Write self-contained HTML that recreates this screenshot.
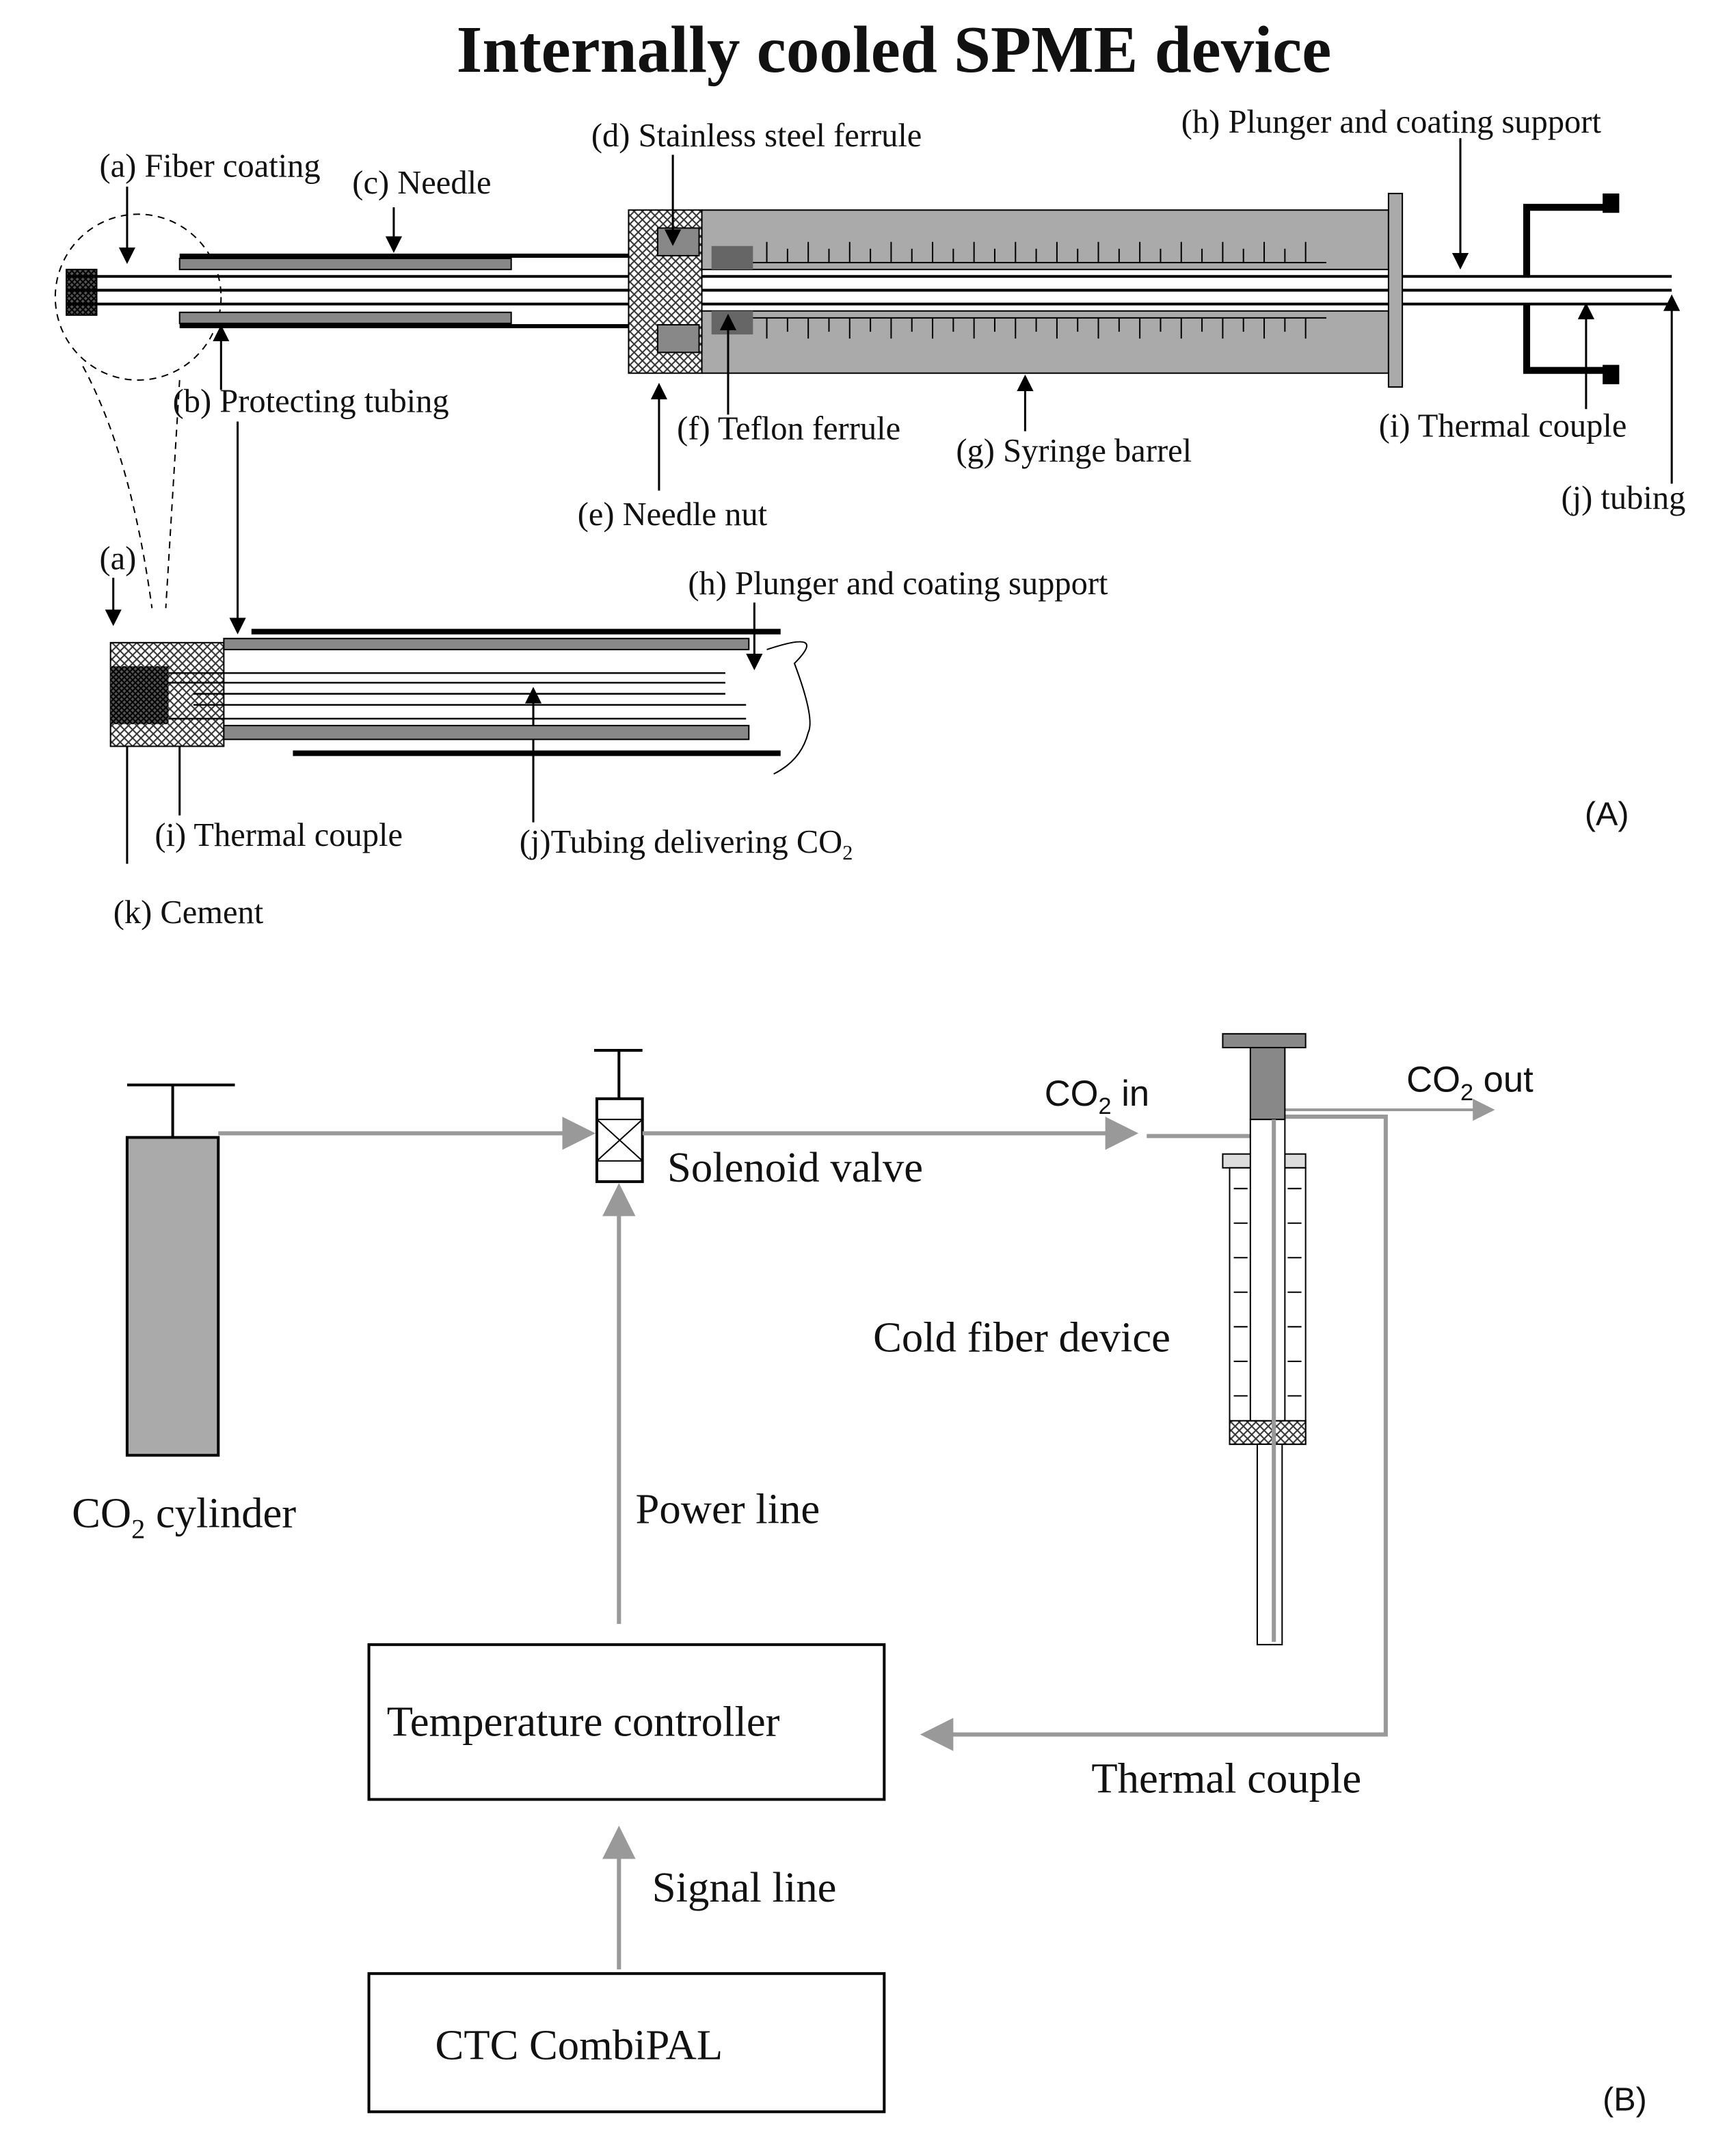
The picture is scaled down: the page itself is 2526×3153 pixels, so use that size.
<!DOCTYPE html>
<html><head><meta charset="utf-8"><style>
html,body{margin:0;padding:0;background:#fff}
svg{display:block}
text{font-family:"Liberation Serif",serif;fill:#111}
</style></head><body>
<svg width="2526" height="3153" viewBox="0 0 1250 1560" preserveAspectRatio="none" xmlns="http://www.w3.org/2000/svg">
<defs>
<pattern id="hx" width="6" height="6" patternUnits="userSpaceOnUse"><rect width="6" height="6" fill="#fff"/><path d="M0 0L6 6M6 0L0 6" stroke="#333" stroke-width="1"/></pattern>
<pattern id="dk" width="4" height="4" patternUnits="userSpaceOnUse"><rect width="4" height="4" fill="#555"/><path d="M0 0L4 4M4 0L0 4" stroke="#000" stroke-width="1"/></pattern>
<marker id="ab" markerWidth="8" markerHeight="8" refX="6" refY="4" orient="auto"><path d="M0 0L8 4L0 8z" fill="#000"/></marker>
<marker id="ag" markerWidth="8" markerHeight="8" refX="6" refY="4" orient="auto"><path d="M0 0L8 4L0 8z" fill="#999"/></marker>
</defs>
<text x="647" y="52" text-anchor="middle" font-size="48" font-weight="bold">Internally cooled SPME device</text>

<circle cx="100" cy="215" r="60" fill="none" stroke="#000" stroke-dasharray="5,4"/>
<path d="M60 265 Q95 330 110 440" fill="none" stroke="#000" stroke-dasharray="5,4"/>
<path d="M130 275 L120 440" fill="none" stroke="#000" stroke-dasharray="5,4"/>
<rect x="48" y="195" width="22" height="33" fill="url(#dk)" stroke="#000"/>
<rect x="130" y="187" width="240" height="8" fill="#888" stroke="#000"/>
<rect x="130" y="226" width="240" height="8" fill="#888" stroke="#000"/>
<line x1="130" y1="185" x2="520" y2="185" stroke="#000" stroke-width="3"/>
<line x1="130" y1="236" x2="520" y2="236" stroke="#000" stroke-width="3"/>
<line x1="48" y1="200" x2="1210" y2="200" stroke="#000" stroke-width="2"/>
<line x1="48" y1="210" x2="1210" y2="210" stroke="#000" stroke-width="2"/>
<line x1="48" y1="220" x2="1210" y2="220" stroke="#000" stroke-width="2"/>
<rect x="455" y="152" width="53" height="118" fill="url(#hx)" stroke="#000"/>
<rect x="476" y="165" width="30" height="20" fill="#888" stroke="#000"/>
<rect x="476" y="235" width="30" height="20" fill="#888" stroke="#000"/>
<rect x="508" y="152" width="497" height="43" fill="#aaa" stroke="#000"/>
<rect x="508" y="225" width="497" height="45" fill="#aaa" stroke="#000"/>
<rect x="515" y="178" width="30" height="17" fill="#666"/>
<rect x="515" y="225" width="30" height="17" fill="#666"/>
<g stroke="#000" stroke-width="1">
<line x1="545" y1="190" x2="960" y2="190"/><line x1="545" y1="230" x2="960" y2="230"/>
</g>
<path d="M555 175V190M570 180V190M585 175V190M600 180V190M615 175V190M630 180V190M645 175V190M660 180V190M675 175V190M690 180V190M705 175V190M720 180V190M735 175V190M750 180V190M765 175V190M780 180V190M795 175V190M810 180V190M825 175V190M840 180V190M855 175V190M870 180V190M885 175V190M900 180V190M915 175V190M930 180V190M945 175V190M555 230V245M570 230V240M585 230V245M600 230V240M615 230V245M630 230V240M645 230V245M660 230V240M675 230V245M690 230V240M705 230V245M720 230V240M735 230V245M750 230V240M765 230V245M780 230V240M795 230V245M810 230V240M825 230V245M840 230V240M855 230V245M870 230V240M885 230V245M900 230V240M915 230V245M930 230V240M945 230V245" stroke="#000"/>
<rect x="1005" y="140" width="10" height="140" fill="#aaa" stroke="#000"/>
<path d="M1165 150H1105V200M1105 220V268H1165" fill="none" stroke="#000" stroke-width="5"/>
<rect x="1160" y="140" width="12" height="14" fill="#000"/><rect x="1160" y="264" width="12" height="14" fill="#000"/>

<g font-size="24">
<text x="72" y="128">(a) Fiber coating</text>
<text x="255" y="140">(c) Needle</text>
<text x="428" y="106">(d) Stainless steel ferrule</text>
<text x="855" y="96">(h) Plunger and coating support</text>
<text x="125" y="298">(b) Protecting tubing</text>
<text x="490" y="318">(f) Teflon ferrule</text>
<text x="692" y="334">(g) Syringe barrel</text>
<text x="998" y="316">(i) Thermal couple</text>
<text x="1130" y="368">(j) tubing</text>
<text x="418" y="380">(e) Needle nut</text>
<text x="72" y="412">(a)</text>
<text x="498" y="430">(h) Plunger and coating support</text>
<text x="112" y="612">(i) Thermal couple</text>
<text x="376" y="617">(j)Tubing delivering CO<tspan font-size="15" dy="5">2</tspan></text>
<text x="82" y="668">(k) Cement</text>
</g>
<text x="1147" y="597" font-size="24" style="font-family:'Liberation Sans',sans-serif">(A)</text>
<g stroke="#000" stroke-width="1.5" fill="none" marker-end="url(#ab)">
<line x1="92" y1="135" x2="92" y2="188"/>
<line x1="285" y1="150" x2="285" y2="180"/>
<line x1="487" y1="112" x2="487" y2="175"/>
<line x1="1057" y1="100" x2="1057" y2="192"/>
<line x1="160" y1="282" x2="160" y2="238"/>
<line x1="527" y1="300" x2="527" y2="230"/>
<line x1="742" y1="312" x2="742" y2="274"/>
<line x1="1148" y1="296" x2="1148" y2="222"/>
<line x1="1210" y1="350" x2="1210" y2="216"/>
<line x1="477" y1="355" x2="477" y2="280"/>
<line x1="82" y1="418" x2="82" y2="450"/>
<line x1="172" y1="305" x2="172" y2="456"/>
<line x1="546" y1="436" x2="546" y2="482"/>
<line x1="386" y1="595" x2="386" y2="500"/>
<line x1="92" y1="625" x2="92" y2="505"/>
<line x1="130" y1="590" x2="130" y2="515"/>
</g>

<rect x="80" y="465" width="82" height="75" fill="url(#hx)" stroke="#000"/>
<rect x="80" y="482" width="42" height="42" fill="url(#dk)"/>
<rect x="162" y="462" width="380" height="8" fill="#888" stroke="#000"/>
<rect x="162" y="525" width="380" height="10" fill="#888" stroke="#000"/>
<line x1="182" y1="457" x2="565" y2="457" stroke="#000" stroke-width="4"/>
<line x1="212" y1="545" x2="565" y2="545" stroke="#000" stroke-width="4"/>
<g stroke="#000" stroke-width="1.2">
<line x1="122" y1="487" x2="525" y2="487"/><line x1="122" y1="494" x2="525" y2="494"/>
<line x1="140" y1="502" x2="525" y2="502"/><line x1="140" y1="510" x2="540" y2="510"/>
<line x1="122" y1="520" x2="540" y2="520"/>
</g>
<path d="M555 470 Q600 455 575 480 Q590 520 585 530 Q580 550 560 560" fill="none" stroke="#000"/>

<line x1="92" y1="785" x2="170" y2="785" stroke="#000" stroke-width="2"/>
<line x1="125" y1="785" x2="125" y2="823" stroke="#000" stroke-width="2"/>
<rect x="92" y="823" width="66" height="230" fill="#aaa" stroke="#000" stroke-width="2"/>
<line x1="158" y1="820" x2="425" y2="820" stroke="#999" stroke-width="3" marker-end="url(#ag)"/>
<line x1="430" y1="760" x2="465" y2="760" stroke="#000" stroke-width="2"/>
<line x1="448" y1="760" x2="448" y2="795" stroke="#000" stroke-width="2"/>
<rect x="432" y="795" width="33" height="60" fill="#fff" stroke="#000" stroke-width="2"/>
<path d="M432 810L465 840M465 810L432 840M432 810H465M432 840H465" stroke="#000"/>
<line x1="465" y1="820" x2="818" y2="820" stroke="#999" stroke-width="3" marker-end="url(#ag)"/>
<line x1="448" y1="1175" x2="448" y2="862" stroke="#999" stroke-width="3" marker-end="url(#ag)"/>
<line x1="448" y1="1425" x2="448" y2="1327" stroke="#999" stroke-width="3" marker-end="url(#ag)"/>
<path d="M925 808H1003V1255H672" fill="none" stroke="#999" stroke-width="3" marker-end="url(#ag)"/>
<line x1="930" y1="803" x2="1078" y2="803" stroke="#999" stroke-width="2" marker-end="url(#ag)"/>
<path d="M830 822H915V1188" fill="none" stroke="#999" stroke-width="3"/>
<rect x="885" y="748" width="60" height="10" fill="#888" stroke="#000"/>
<rect x="905" y="758" width="25" height="52" fill="#888" stroke="#000"/>
<rect x="885" y="835" width="60" height="10" fill="#ddd" stroke="#000"/>
<rect x="890" y="845" width="55" height="200" fill="#fff" stroke="#000"/>
<rect x="890" y="1028" width="55" height="17" fill="url(#hx)" stroke="#000"/>
<rect x="905" y="810" width="25" height="218" fill="#fff" stroke="#000"/>
<path d="M893 860h10M893 885h10M893 910h10M893 935h10M893 960h10M893 985h10M893 1010h10M932 860h10M932 885h10M932 910h10M932 935h10M932 960h10M932 985h10M932 1010h10" stroke="#000"/>
<rect x="910" y="1045" width="18" height="145" fill="#fff" stroke="#000"/>
<line x1="922" y1="810" x2="922" y2="1188" stroke="#999" stroke-width="3"/>

<rect x="267" y="1190" width="373" height="112" fill="#fff" stroke="#000" stroke-width="2"/>
<rect x="267" y="1428" width="373" height="100" fill="#fff" stroke="#000" stroke-width="2"/>
<g font-size="31">
<text x="52" y="1105">CO<tspan font-size="20" dy="8">2</tspan><tspan dy="-8"> cylinder</tspan></text>
<text x="483" y="855">Solenoid valve</text>
<text x="632" y="978">Cold fiber device</text>
<text x="460" y="1102">Power line</text>
<text x="280" y="1256">Temperature controller</text>
<text x="790" y="1297">Thermal couple</text>
<text x="472" y="1376">Signal line</text>
<text x="315" y="1490">CTC CombiPAL</text>
</g>
<g font-size="26">
<text x="756" y="800" style="font-family:'Liberation Sans',sans-serif">CO<tspan font-size="17" dy="6">2</tspan><tspan dy="-6"> in</tspan></text>
<text x="1018" y="790" style="font-family:'Liberation Sans',sans-serif">CO<tspan font-size="17" dy="6">2</tspan><tspan dy="-6"> out</tspan></text>
<text x="1160" y="1527" font-size="24" style="font-family:'Liberation Sans',sans-serif">(B)</text>
</g>
</svg>
</body></html>
